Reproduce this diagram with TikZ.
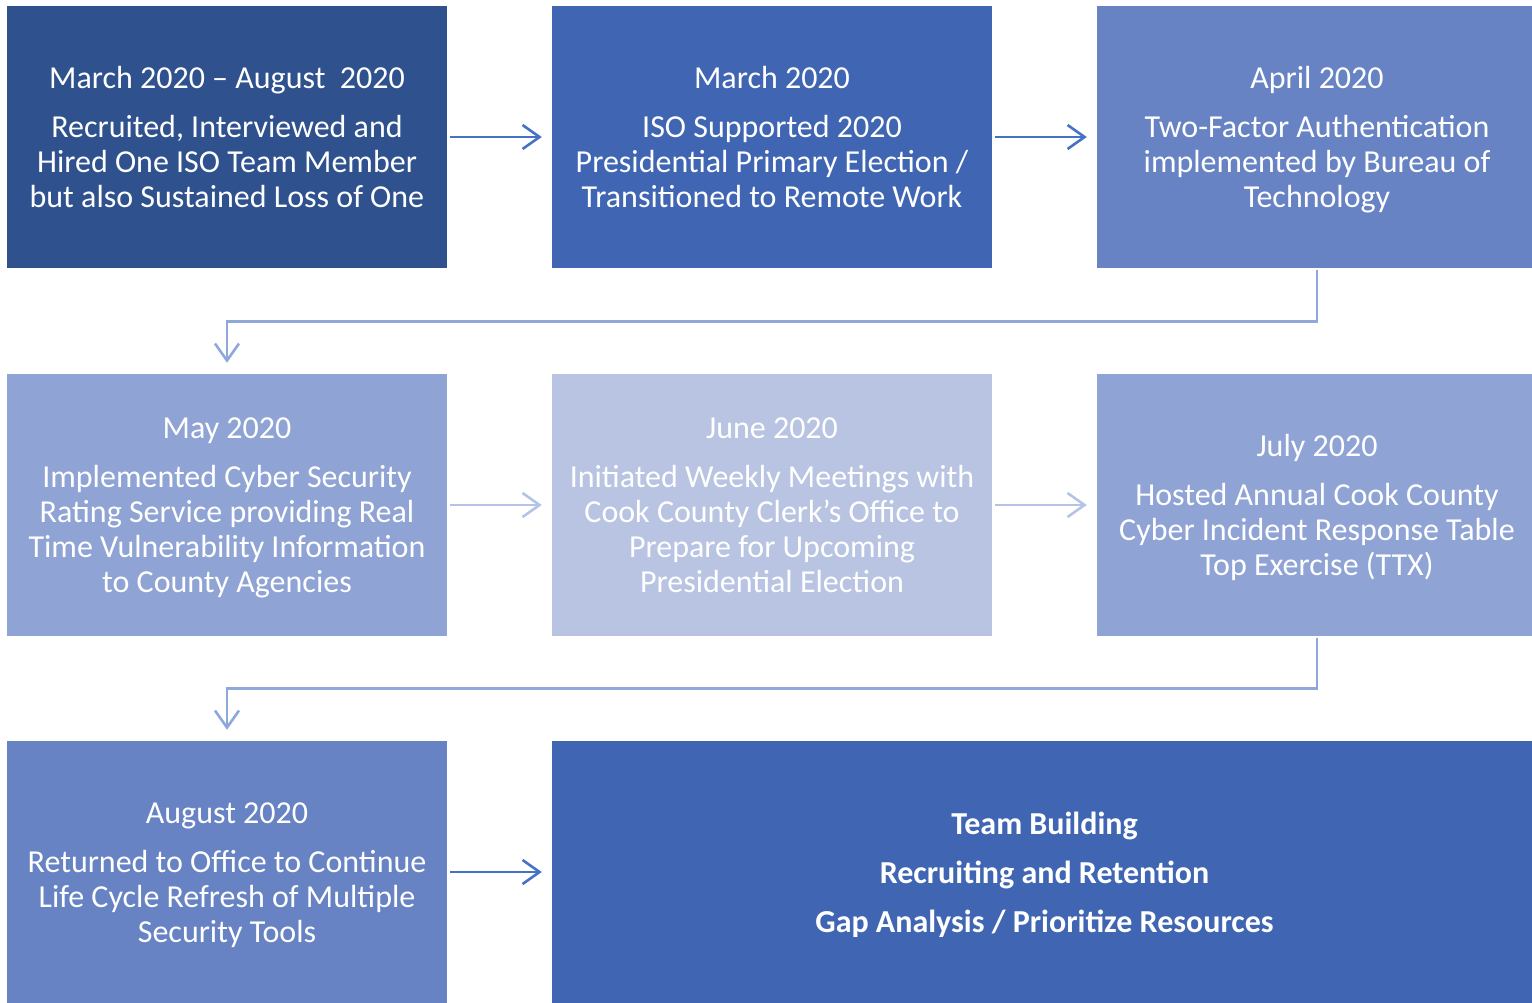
\documentclass[tikz,border=0pt]{standalone}
\usepackage{fontspec}
\setmainfont{Carlito}
\usetikzlibrary{arrows.meta}
\definecolor{cA}{HTML}{2F528F}
\definecolor{cB}{HTML}{4066B3}
\definecolor{cC}{HTML}{6783C4}
\definecolor{cD}{HTML}{8FA3D4}
\definecolor{cE}{HTML}{B8C4E2}
\definecolor{arrDark}{HTML}{4472C4}
\definecolor{arrMid}{HTML}{8FA8DA}
\definecolor{arrLight}{HTML}{B4C3E6}
\begin{document}
\begin{tikzpicture}[x=1pt,y=-1pt,
  box/.style={rectangle, inner sep=0pt, minimum width=440pt, minimum height=262pt,
    text=white, align=center, font=\fontsize{32}{35}\selectfont},
  flow/.style={line width=2.6pt, -{Straight Barb[length=17pt,width=24pt,line width=2.6pt]}},
  elbow/.style={line width=2.6pt, color=arrMid, -{Straight Barb[length=17pt,width=24pt,line width=2.6pt]}}]
\useasboundingbox (0,0) rectangle (1532,1002);
\begin{scope}
\clip (0,0) rectangle (1532,1002);
% top row
\node[box, fill=cA] (b1) at (227,137) {March 2020 -- August\ \ 2020\\[14pt]Recruited, Interviewed and\\Hired One ISO Team Member\\but also Sustained Loss of One};
\node[box, fill=cB] (b2) at (772,137) {March 2020\\[14pt]ISO Supported 2020\\Presidential Primary Election /\\Transitioned to Remote Work};
\node[box, fill=cC] (b3) at (1317,137) {April 2020\\[14pt]Two-Factor Authentication\\implemented by Bureau of\\\smash{Technology}};
% middle row
\node[box, fill=cD] (b4) at (227,505) {May 2020\\[14pt]Implemented Cyber Security\\Rating Service providing Real\\Time Vulnerability Information\\\smash{to County Agencies}};
\node[box, fill=cE] (b5) at (772,505) {June 2020\\[14pt]Initiated Weekly Meetings with\\Cook County Clerk’s Office to\\Prepare for Upcoming\\Presidential Election};
\node[box, fill=cD] (b6) at (1317,505) {July 2020\\[14pt]Hosted Annual Cook County\\Cyber Incident Response Table\\\smash{Top Exercise (TTX)}};
% bottom row
\node[box, fill=cC, minimum height=269pt] (b7) at (227,875.5) {August 2020\\[14pt]Returned to Office to Continue\\Life Cycle Refresh of Multiple\\Security Tools};
\node[box, fill=cB, minimum width=985pt, minimum height=263pt, font=\fontsize{32}{49}\selectfont\bfseries] (b8) at (1044.5,872.5) {Team Building\\Recruiting and Retention\\\smash{Gap Analysis / Prioritize Resources}};
\end{scope}
% connectors
\draw[flow, arrDark, shorten <=3pt, shorten >=10pt] (b1.east) -- (b2.west);
\draw[flow, arrDark, shorten <=3pt, shorten >=10pt] (b2.east) -- (b3.west);
\draw[flow, arrLight, shorten <=3pt, shorten >=10pt] (b4.east) -- (b5.west);
\draw[flow, arrLight, shorten <=3pt, shorten >=10pt] (b5.east) -- (b6.west);
\draw[flow, arrDark, shorten <=3pt, shorten >=10pt] ([yshift=3.5pt]b7.east) -- ([yshift=3.5pt]b7.east -| b8.west);
\draw[elbow, shorten <=2pt, shorten >=11pt] (b3.south) -- ++(0,53) -| (b4.north);
\draw[elbow, shorten <=2pt, shorten >=11pt] (b6.south) -- ++(0,52) -| (b7.north);
\end{tikzpicture}
\end{document}
